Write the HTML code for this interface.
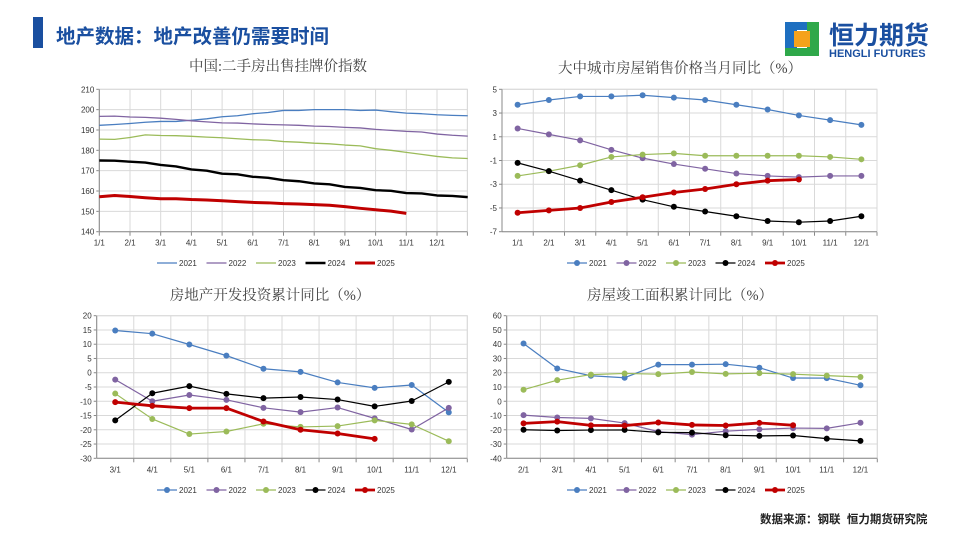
<!DOCTYPE html>
<html><head><meta charset="utf-8">
<style>
html,body{margin:0;padding:0;background:#fff;}
body{width:960px;height:540px;position:relative;overflow:hidden;font-family:"Liberation Sans","Noto Sans CJK SC",sans-serif;}
#hdrbar{position:absolute;left:33px;top:17px;width:10px;height:31px;background:#1a4fa0;}
#hdr{position:absolute;left:56px;top:20px;font-size:19.5px;font-weight:bold;color:#1a4fa0;}
#foot{position:absolute;left:760px;top:511px;font-size:11.5px;font-weight:bold;color:#222;}
svg{position:absolute;left:0;top:0;}
</style></head><body>
<div id="hdrbar"></div>
<div id="hdr">地产数据：地产改善仍需要时间</div>
<div id="foot">数据来源：钢联&nbsp;&nbsp;恒力期货研究院</div>
<svg id="logo" width="960" height="540">
  <rect x="785" y="22" width="12" height="34" fill="#1e6fc0"/>
  <rect x="785" y="22" width="34" height="8" fill="#1e6fc0"/>
  <rect x="807" y="22" width="12" height="34" fill="#2fa84a"/>
  <rect x="785" y="48" width="34" height="8" fill="#2fa84a"/>
  <rect x="794" y="31" width="16" height="16" fill="#f5a21b"/>
  <text x="829" y="44" font-size="25" font-weight="bold" fill="#1a4fa0" font-family="Liberation Sans, Noto Sans CJK SC, sans-serif">恒力期货</text>
  <text x="829" y="57" font-size="11" font-weight="bold" fill="#1a4fa0" font-family="Liberation Sans, sans-serif">HENGLI FUTURES</text>
</svg>
<svg id="charts" width="960" height="540"></svg>
<script>
const years = ["2021","2022","2023","2024","2025"];
const colors = ["#4a7ec0","#8064a2","#9bbb59","#000000","#c00000"];

// Chart 1: second-hand listing price index (semi-monthly points t=1..13)
const c1T = [1,1.5,2,2.5,3,3.5,4,4.5,5,5.5,6,6.5,7,7.5,8,8.5,9,9.5,10,10.5,11,11.5,12,12.5,13];
const c1Months = ["1/1","2/1","3/1","4/1","5/1","6/1","7/1","8/1","9/1","10/1","11/1","12/1"];
const c1Ticks = [140,150,160,170,180,190,200,210];
const c1S2021 = [192.3,192.7,193.2,193.8,194.2,194.2,194.8,195.5,196.5,197,198,198.6,199.6,199.6,200,200,200,199.6,199.8,199,198.3,198,197.5,197.2,197];
const c1S2022 = [196.7,196.8,196.4,196.2,195.8,195.2,194.5,194,193.5,193.4,193,192.7,192.5,192.3,191.9,191.7,191.3,191,190.3,189.8,189.3,189,188,187.4,187];
const c1S2023 = [185.5,185.4,186.3,187.6,187.3,187.2,186.9,186.5,186.2,185.7,185.2,185,184.3,184,183.5,183.2,182.6,182.2,180.8,180,179,178,177,176.3,176];
const c1S2024 = [175,174.9,174.4,174,172.8,172.1,170.6,170,168.5,168.2,167,166.5,165.3,164.8,163.7,163.3,162,161.5,160.4,160.1,159,158.8,157.8,157.6,157];
const c1S2025 = [157.2,157.8,157.3,156.7,156.2,156.2,155.8,155.6,155.2,154.8,154.4,154.2,153.8,153.6,153.3,153,152.3,151.5,150.8,150.1,149,null,null,null,null];

// Chart 2: 70-city price yoy
const c2Cats = ["1/1","2/1","3/1","4/1","5/1","6/1","7/1","8/1","9/1","10/1","11/1","12/1"];
const c2Ticks = [-7,-5,-3,-1,1,3,5];
const c2S2021 = [3.7,4.1,4.4,4.4,4.5,4.3,4.1,3.7,3.3,2.8,2.4,2.0];
const c2S2022 = [1.7,1.2,0.7,-0.1,-0.8,-1.3,-1.7,-2.1,-2.3,-2.4,-2.3,-2.3];
const c2S2023 = [-2.3,-1.9,-1.4,-0.7,-0.5,-0.4,-0.6,-0.6,-0.6,-0.6,-0.7,-0.9];
const c2S2024 = [-1.2,-1.9,-2.7,-3.5,-4.3,-4.9,-5.3,-5.7,-6.1,-6.2,-6.1,-5.7];
const c2S2025 = [-5.4,-5.2,-5.0,-4.5,-4.1,-3.7,-3.4,-3.0,-2.7,-2.6];

// Chart 3: real estate investment cumulative yoy
const c3Cats = ["3/1","4/1","5/1","6/1","7/1","8/1","9/1","10/1","11/1","12/1"];
const c3Ticks = [-30,-25,-20,-15,-10,-5,0,5,10,15,20];
const c3S2021 = [14.8,13.7,9.9,6,1.4,0.3,-3.4,-5.3,-4.3,-13.9];
const c3S2022 = [-2.4,-10,-7.8,-9.5,-12.3,-13.8,-12.2,-16,-19.9,-12.3];
const c3S2023 = [-7.3,-16.2,-21.5,-20.6,-17.9,-19,-18.7,-16.7,-18.1,-24];
const c3S2024 = [-16.7,-7.2,-4.7,-7.4,-8.9,-8.5,-9.4,-11.8,-9.9,-3.2];
const c3S2025 = [-10.3,-11.6,-12.4,-12.4,-17.1,-20,-21.3,-23.2];

// Chart 4: completion area cumulative yoy
const c4Cats = ["2/1","3/1","4/1","5/1","6/1","7/1","8/1","9/1","10/1","11/1","12/1"];
const c4Ticks = [-40,-30,-20,-10,0,10,20,30,40,50,60];
const c4S2021 = [40.5,23,17.9,16.5,25.7,25.7,26,23.5,16.3,16.2,11.2];
const c4S2022 = [-9.7,-11.4,-12,-15.3,-21.3,-23.4,-21,-19.7,-18.8,-19,-15.1];
const c4S2023 = [8.1,14.8,18.7,19.5,19,20.5,19.2,19.7,19,18,17];
const c4S2024 = [-20,-20.5,-20.2,-20.1,-21.8,-22,-23.8,-24.3,-24,-26.2,-27.8];
const c4S2025 = [-15.5,-14.3,-16.9,-17.1,-14.9,-16.6,-17,-15.2,-16.8];

const NS = "http://www.w3.org/2000/svg";
const svg = document.getElementById("charts");
function mk(tag, attrs, parent){
  const e = document.createElementNS(NS, tag);
  for (const k in attrs) e.setAttribute(k, attrs[k]);
  (parent||svg).appendChild(e);
  return e;
}
const FONT = "Liberation Sans, Noto Sans CJK SC, sans-serif";

function drawChart(cfg){
  const widths = cfg.widths;
  const g = mk("g", {});
  
  
  const {L,R,T,B,ymin,ymax} = cfg;
  const yS = v => B - (v - ymin) / (ymax - ymin) * (B - T);
  const xS = cfg.xS;
  const tt = mk("text", {x:cfg.titleX, y:cfg.titleY, "font-size":14.5, fill:"#444", "text-anchor":"middle", "font-family":"Liberation Serif, Noto Serif CJK SC, serif"}, g);
  tt.textContent = cfg.title;
  
  
  cfg.ticks.forEach(v => {
    const y = yS(v);
    if (v !== ymin) mk("line", {x1:L, x2:R, y1:y, y2:y, stroke:"#d9d9d9", "stroke-width":1}, g);
    const t = mk("text", {x:L-5, y:y+3, "font-size":8, fill:"#333", "text-anchor":"end", "font-family":FONT}, g);
    t.textContent = v;
    
    
    mk("line", {x1:L-3, x2:L, y1:y, y2:y, stroke:"#888"}, g);
  });
  cfg.vgrid.forEach(x => {
    mk("line", {x1:x, x2:x, y1:T, y2:B, stroke:"#d9d9d9", "stroke-width":1}, g);
    mk("line", {x1:x, x2:x, y1:B, y2:B+4, stroke:"#888"}, g);
  });
  mk("rect", {x:L, y:T, width:R-L, height:B-T, fill:"none", stroke:"#d9d9d9"}, g);
  mk("line", {x1:L, x2:L, y1:T, y2:B, stroke:"#888"}, g);
  mk("line", {x1:L, x2:R, y1:B, y2:B, stroke:"#888"}, g);
  cfg.xLabels.forEach(([x, lab]) => {
    const t = mk("text", {x:x, y:B+14, "font-size":8, fill:"#333", "text-anchor":"middle", "font-family":FONT}, g);
    t.textContent = lab;
    
    
  });
  cfg.series.forEach((s, i) => {
    const pts = [];
    s.forEach((v, j) => { if (v !== null && v !== undefined) pts.push([xS(j), yS(v)]); });
    const p = mk("polyline", {points: pts.map(p=>p.join(",")).join(" "), fill:"none", stroke:colors[i], "stroke-width":widths[i], "stroke-linejoin":"round"}, g);
    
    
    if (cfg.markers) pts.forEach(pt => {
      const c = mk("circle", {cx:pt[0], cy:pt[1], r:3, fill:colors[i]}, g);
      
      
    });
  });
  years.forEach((yr, i) => {
    const lx = cfg.legX + i * 49.5, ly = cfg.legY;
    const lg = mk("g", {}, g);
    
    
    mk("line", {x1:lx, x2:lx+20, y1:ly, y2:ly, stroke:colors[i], "stroke-width":widths[i]}, lg);
    if (cfg.markers) mk("circle", {cx:lx+10, cy:ly, r:3, fill:colors[i]}, lg);
    const t = mk("text", {x:lx+22, y:ly+3, "font-size":8, fill:"#333", "font-family":FONT}, lg);
    t.textContent = yr;
  });
}

const wThick24 = [1.3,1.3,1.3,2.4,3];
const wThin24 = [1.2,1.2,1.2,1.2,2.8];

(function(){
  const L=99.3, R=467.4, mw=30.7;
  const xm = t => L + (t-1)*mw;
  drawChart({name:"chart-listing-price-index", title:"中国:二手房出售挂牌价指数", titleX:278, titleY:71,
    L, R, T:89.3, B:231.7, ymin:140, ymax:210, ticks:c1Ticks, widths:wThick24,
    xS: j => xm(c1T[j]),
    vgrid: c1Months.map((m,i)=>xm(i+1)).concat([R]),
    xLabels: c1Months.map((m,i)=>[xm(i+1), m]),
    series:[c1S2021,c1S2022,c1S2023,c1S2024,c1S2025], markers:false, legX:157, legY:263});
})();
(function(){
  const L=502, R=877, bw=(R-L)/c2Cats.length;
  drawChart({name:"chart-city-price-yoy", title:"大中城市房屋销售价格当月同比（%）", titleX:680, titleY:73,
    L, R, T:89.3, B:231.7, ymin:-7, ymax:5, ticks:c2Ticks, widths:wThin24,
    xS: j => L + (j+0.5)*bw,
    vgrid: c2Cats.map((c,i)=>L+(i+1)*bw),
    xLabels: c2Cats.map((c,i)=>[L+(i+0.5)*bw, c]),
    series:[c2S2021,c2S2022,c2S2023,c2S2024,c2S2025], markers:true, legX:567, legY:263});
})();
(function(){
  const L=96.7, R=467.3, bw=(R-L)/c3Cats.length;
  drawChart({name:"chart-investment-yoy", title:"房地产开发投资累计同比（%）", titleX:270, titleY:300,
    L, R, T:315.7, B:458.3, ymin:-30, ymax:20, ticks:c3Ticks, widths:wThin24,
    xS: j => L + (j+0.5)*bw,
    vgrid: c3Cats.map((c,i)=>L+(i+1)*bw),
    xLabels: c3Cats.map((c,i)=>[L+(i+0.5)*bw, c]),
    series:[c3S2021,c3S2022,c3S2023,c3S2024,c3S2025], markers:true, legX:157, legY:490});
})();
(function(){
  const L=506.7, R=877.3, bw=(R-L)/c4Cats.length;
  drawChart({name:"chart-completion-yoy", title:"房屋竣工面积累计同比（%）", titleX:680, titleY:300,
    L, R, T:315.7, B:458.3, ymin:-40, ymax:60, ticks:c4Ticks, widths:wThin24,
    xS: j => L + (j+0.5)*bw,
    vgrid: c4Cats.map((c,i)=>L+(i+1)*bw),
    xLabels: c4Cats.map((c,i)=>[L+(i+0.5)*bw, c]),
    series:[c4S2021,c4S2022,c4S2023,c4S2024,c4S2025], markers:true, legX:567, legY:490});
})();
</script>
</body></html>
